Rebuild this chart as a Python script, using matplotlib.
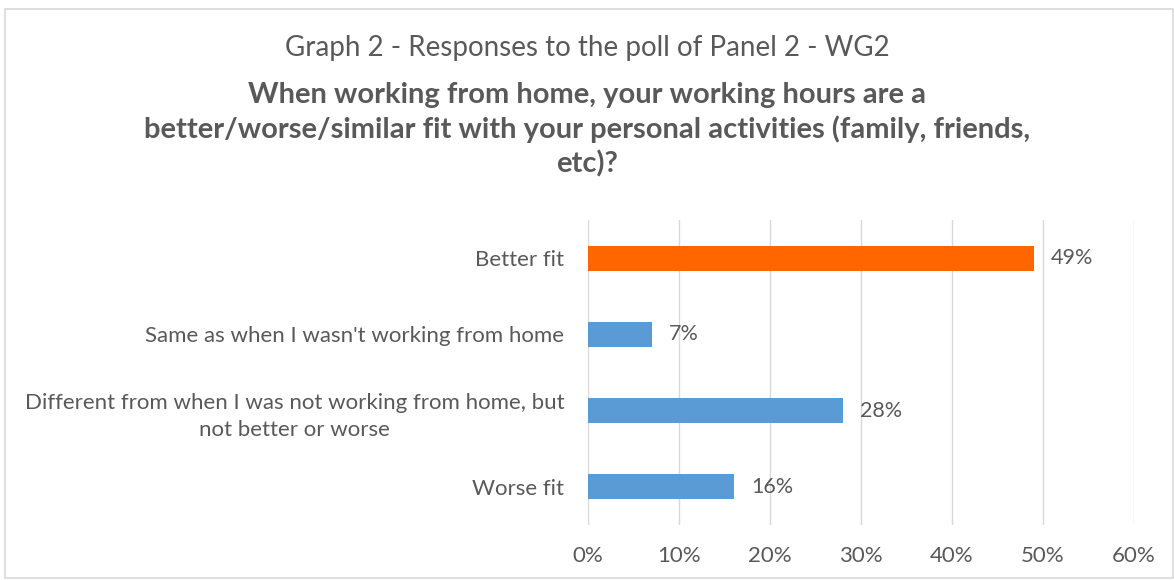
import matplotlib
matplotlib.use("Agg")
import matplotlib.pyplot as plt
from matplotlib.patches import Rectangle

categories = ["Better fit",
              "Same as when I wasn't working from home",
              "Different from when I was not working from home, but\nnot better or worse",
              "Worse fit"]
values = [49, 7, 28, 16]
bar_colors = ["#FF6600", "#5B9BD5", "#5B9BD5", "#5B9BD5"]
xticks = [0, 10, 20, 30, 40, 50, 60]
xtick_labels = ["0%", "10%", "20%", "30%", "40%", "50%", "60%"]
title_line1 = "Graph 2 - Responses to the poll of Panel 2 - WG2"
title_bold_lines = ["When working from home, your working hours are a",
                    "better/worse/similar fit with your personal activities (family, friends,",
                    "etc)?"]

plt.rcParams['font.family'] = ['Lato', 'DejaVu Sans']
W, H = 1174, 580
fig = plt.figure(figsize=(W / 100, H / 100), dpi=100)
fig.patch.set_facecolor("white")

# outer frame
fig.patches.append(Rectangle((5 / W, 1 - 578 / H), (1173 - 5) / W, (578 - 9) / H,
                             transform=fig.transFigure, fill=False,
                             edgecolor="#d9d9d9", linewidth=1.2))

ax = fig.add_axes([588 / W, 1 - 525 / H, (1134 - 588) / W, (525 - 220) / H])
n = len(categories)
ypos = list(range(n - 1, -1, -1))
ax.barh(ypos, values, height=0.33, color=bar_colors, zorder=3)
ax.set_xlim(0, 60)
ax.set_ylim(-0.5, n - 0.5)
ax.set_xticks(xticks)
ax.set_xticklabels(xtick_labels)
ax.set_yticks(ypos)
ax.set_yticklabels(categories, multialignment="center", linespacing=1.45)
ax.tick_params(axis="both", length=0, colors="#595959")
ax.tick_params(axis="y", pad=17, labelsize=16)
ax.tick_params(axis="x", pad=15, labelsize=16)
for lab in ax.get_yticklabels():
    lab.set_color("#595959")
for lab in ax.get_xticklabels():
    lab.set_color("#595959")
ax.grid(axis="x", color="#d9d9d9", linewidth=1, zorder=0)
for s in ax.spines.values():
    s.set_visible(False)

for y, v in zip(ypos, values):
    ax.text(v + 1.9, y, f"{v}%", va="center", ha="left", color="#595959", fontsize=15.5)

fig.text(0.5, 1 - 48 / H, title_line1, ha="center", va="center",
         fontsize=20, color="#595959")
for i, line in enumerate(title_bold_lines):
    fig.text(0.5, 1 - (95 + 34.5 * i) / H, line, ha="center", va="center",
             fontsize=21, color="#595959", fontweight="bold")

fig.savefig("out.png", dpi=100, facecolor="white")
